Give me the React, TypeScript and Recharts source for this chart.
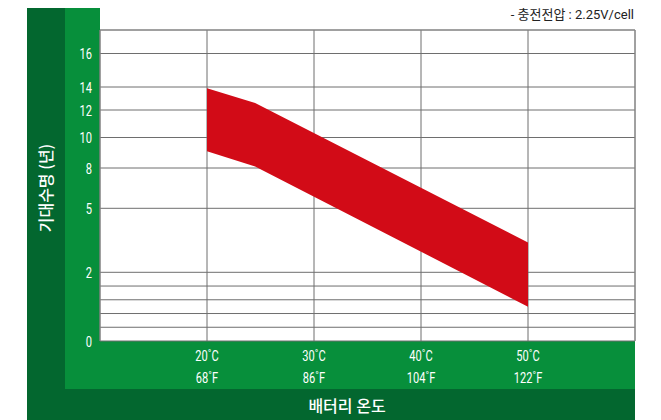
import { ComposedChart, Area, XAxis, YAxis, CartesianGrid, ReferenceLine } from 'recharts';

// temperatures (°C) and matching °F labels
const tempTicks = [20, 30, 40, 50];
const fahrenheitLabels = ['68˚F', '86˚F', '104˚F', '122˚F'];

// expected life (years) – the axis in the original is not linear, so each
// labelled year value sits on its own level of the axis
const yearTicks = [0, 2, 5, 8, 10, 12, 14, 16];
const yearLevels = [0, 68.7, 132.7, 173, 203.5, 231, 254, 287.5];
const minorYears = [0.4, 0.8, 1.2, 1.6];
const TOP_LEVEL = 311;

// red band
const bandTemps = [20, 24.5, 50];
const lifeHigh = [13.9, 12.6, 3.4];
const lifeLow = [9.1, 8.1, 1.0];

const DARK = '#03672f';
const LIGHT = '#078f3b';
const RED = '#d20b17';
const CONDENSED = 'Roboto, sans-serif';
const KR = '"Noto Sans CJK KR", sans-serif';

function levelOf(y: number) {
    for (let i = 1; i < yearTicks.length; i++) {
        if (y <= yearTicks[i]) {
            const t = (y - yearTicks[i - 1]) / (yearTicks[i] - yearTicks[i - 1]);
            return yearLevels[i - 1] + t * (yearLevels[i] - yearLevels[i - 1]);
        }
    }
    return yearLevels[yearLevels.length - 1];
}

const data = bandTemps.map((t, i) => ({
    temp: t,
    band: [levelOf(lifeLow[i]), levelOf(lifeHigh[i])],
}));

const yTickLevels = [...yearLevels, ...minorYears.map(levelOf)].sort((a, b) => a - b);

// narrow white label (the original uses a condensed face)
const NarrowText = ({ x, y, anchor, children }: any) => (
    <text
        transform={`translate(${x},${y}) scale(0.74,1)`}
        textAnchor={anchor}
        fill="#fff"
        fontSize={15}
        fontFamily={CONDENSED}
    >
        {children}
    </text>
);

const TempTick = ({ x, y, payload }: any) => {
    const i = tempTicks.indexOf(payload.value);
    return (
        <g>
            <NarrowText x={x} y={y + 12} anchor="middle">{payload.value}˚C</NarrowText>
            <NarrowText x={x} y={y + 34} anchor="middle">{fahrenheitLabels[i]}</NarrowText>
        </g>
    );
};

const YearTick = ({ x, y, payload }: any) => {
    const i = yearLevels.indexOf(payload.value);
    if (i < 0) return null;
    return <NarrowText x={x} y={y + 5.5} anchor="end">{yearTicks[i]}</NarrowText>;
};

export default function App() {
    return (
        <div style={{ position: 'absolute', left: 0, top: 0, width: 661, height: 420, background: '#fff', overflow: 'hidden' }}>
            {/* green frame */}
            <div style={{ position: 'absolute', left: 27, top: 8, width: 38, height: 412, background: DARK }} />
            <div style={{ position: 'absolute', left: 65, top: 389, width: 570, height: 31, background: DARK }} />
            <div style={{ position: 'absolute', left: 65, top: 8, width: 35, height: 381, background: LIGHT }} />
            <div style={{ position: 'absolute', left: 100, top: 341, width: 535, height: 48, background: LIGHT }} />

            <div
                style={{
                    position: 'absolute', left: 45, top: 188, transform: 'translate(-50%, -50%) rotate(-90deg)',
                    color: '#fff', fontFamily: KR, fontSize: 16, fontWeight: 500, whiteSpace: 'nowrap',
                }}
            >
                기대수명 (년)
            </div>
            <div
                style={{
                    position: 'absolute', left: 347, top: 405, transform: 'translate(-50%, -50%)',
                    color: '#fff', fontFamily: KR, fontSize: 16, fontWeight: 500, whiteSpace: 'nowrap',
                }}
            >
                배터리 온도
            </div>
            <div
                style={{
                    position: 'absolute', right: 27, top: 6, color: '#222', fontFamily: `Roboto, ${KR}`,
                    fontSize: 13, whiteSpace: 'nowrap', lineHeight: '18px',
                }}
            >
                - 충전전압 : 2.25V/cell
            </div>

            <div style={{ position: 'absolute', left: 0, top: 0 }}>
                <ComposedChart width={661} height={420} data={data} margin={{ top: 30, right: 26, bottom: 31, left: 65 }}>
                    <CartesianGrid stroke="#6e6e6e" fill="#fff" />
                    <XAxis
                        dataKey="temp"
                        type="number"
                        domain={[10, 60]}
                        ticks={tempTicks}
                        height={48}
                        axisLine={false}
                        tickLine={false}
                        tick={<TempTick />}
                    />
                    <YAxis
                        type="number"
                        domain={[0, TOP_LEVEL]}
                        ticks={yTickLevels}
                        width={35}
                        axisLine={false}
                        tickLine={false}
                        interval={0}
                        tick={<YearTick />}
                    />
                    <Area
                        dataKey="band"
                        type="linear"
                        stroke="none"
                        fill={RED}
                        fillOpacity={1}
                        isAnimationActive={false}
                    />
                    <ReferenceLine y={TOP_LEVEL} stroke="#8a8a8a" />
                    <ReferenceLine x={10} stroke="#8a8a8a" />
                    <ReferenceLine x={60} stroke="#8a8a8a" />
                </ComposedChart>
            </div>
        </div>
    );
}
